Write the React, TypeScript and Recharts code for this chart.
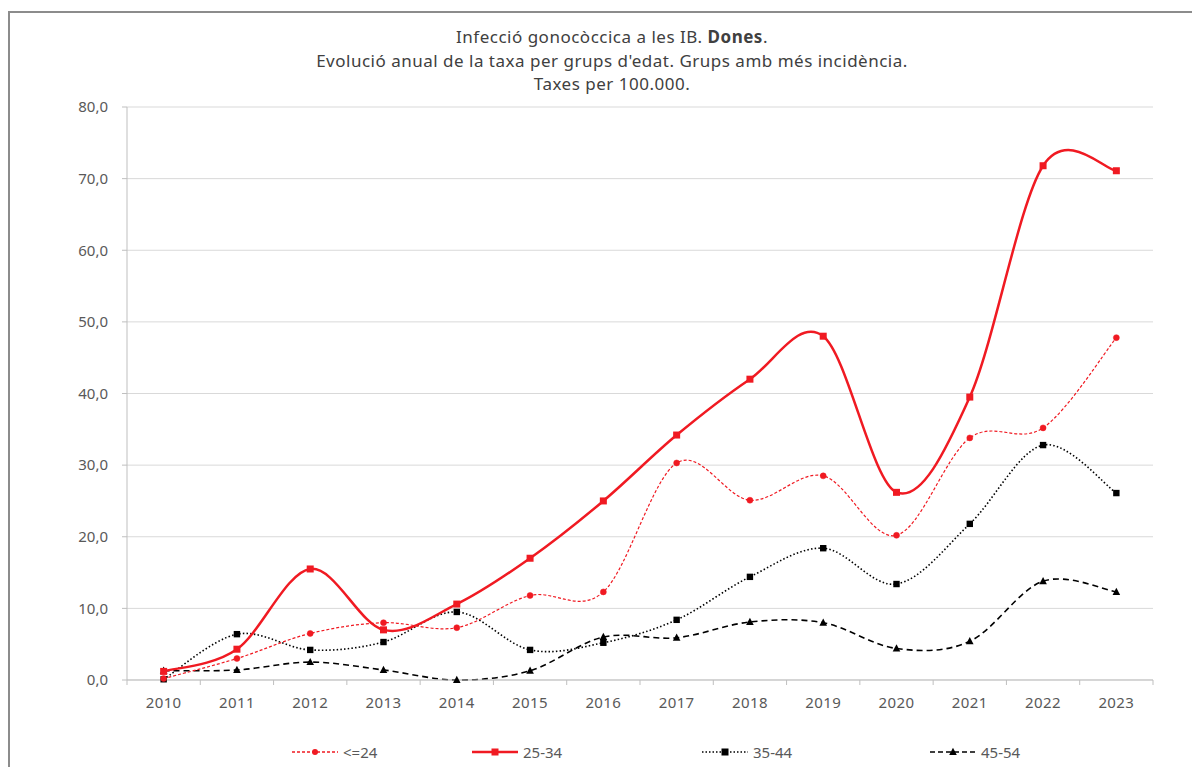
import React from 'react';
import { LineChart, Line, XAxis, YAxis, CartesianGrid, Legend } from 'recharts';

const years = ['2010','2011','2012','2013','2014','2015','2016','2017','2018','2019','2020','2021','2022','2023'];
const le24 = [0.2, 3.0, 6.5, 8.0, 7.3, 11.8, 12.3, 30.3, 25.1, 28.5, 20.2, 33.8, 35.2, 47.8];
const g2534 = [1.2, 4.3, 15.5, 7.0, 10.6, 17.0, 25.0, 34.2, 42.0, 48.0, 26.2, 39.5, 71.8, 71.1];
const g3544 = [0.1, 6.4, 4.2, 5.3, 9.5, 4.2, 5.2, 8.4, 14.4, 18.4, 13.4, 21.8, 32.8, 26.1];
const g4554 = [1.3, 1.4, 2.5, 1.4, 0.0, 1.3, 6.0, 5.9, 8.1, 8.0, 4.4, 5.4, 13.8, 12.3];
const yTicks = [0, 10, 20, 30, 40, 50, 60, 70, 80];
const seriesNames = ['<=24', '25-34', '35-44', '45-54'];
const titleLines = ['Infecció gonocòccica a les IB. ', "Evolució anual de la taxa per grups d'edat. Grups amb més incidència.", 'Taxes per 100.000.'];

const data = years.map((y, i) => ({ year: y, a: le24[i], b: g2534[i], c: g3544[i], d: g4554[i] }));

const RED = '#f01a22';
const FONT = '"Noto Sans", "Open Sans", sans-serif';

// Excel-like smoothed line (Catmull-Rom via cubic Bezier)
const excelCurve: any = (ctx: any) => {
  let pts: number[][] = [];
  return {
    areaStart() {},
    areaEnd() {},
    lineStart() { pts = []; },
    point(x: number, y: number) { pts.push([+x, +y]); },
    lineEnd() {
      const n = pts.length;
      if (!n) return;
      ctx.moveTo(pts[0][0], pts[0][1]);
      for (let i = 0; i < n - 1; i++) {
        const p0 = pts[Math.max(i - 1, 0)], p1 = pts[i], p2 = pts[i + 1], p3 = pts[Math.min(i + 2, n - 1)];
        ctx.bezierCurveTo(
          p1[0] + (p2[0] - p0[0]) / 6, p1[1] + (p2[1] - p0[1]) / 6,
          p2[0] - (p3[0] - p1[0]) / 6, p2[1] - (p3[1] - p1[1]) / 6,
          p2[0], p2[1]
        );
      }
    },
  };
};

const CircleDot = (p: any) => <circle key={p.key ?? p.index} cx={p.cx} cy={p.cy} r={3} fill={RED} stroke={RED} strokeWidth={0.5} />;
const RedSquare = (p: any) => <rect key={p.key ?? p.index} x={p.cx - 3.5} y={p.cy - 3.5} width={7} height={7} fill={RED} />;
const BlackSquare = (p: any) => <rect key={p.key ?? p.index} x={p.cx - 3.2} y={p.cy - 3.2} width={6.4} height={6.4} fill="#000" />;
const Triangle = (p: any) => <path key={p.key ?? p.index} d={`M${p.cx},${p.cy - 4.2}L${p.cx + 3.8},${p.cy + 3}L${p.cx - 3.8},${p.cy + 3}Z`} fill="#000" />;

const XTick = (props: any) => {
  const { x, y, payload, index, visibleTicksCount } = props;
  const off = payload?.offset ?? 0;
  const last = index === (visibleTicksCount ?? years.length) - 1;
  return (
    <g>
      <line x1={x - off} x2={x - off} y1={y} y2={y + 5} stroke="#bfbfbf" strokeWidth={1} />
      {last && <line x1={x + off} x2={x + off} y1={y} y2={y + 5} stroke="#bfbfbf" strokeWidth={1} />}
      <text x={x} y={y + 17} dy="0.71em" textAnchor="middle" fill="#595959" fontSize={15} letterSpacing={0.4} fontFamily={FONT}>{payload.value}</text>
    </g>
  );
};

const legendItems = [
  { name: seriesNames[0], left: 282, stroke: RED, dash: '3 2', width: 1.3, marker: 'circle', color: RED },
  { name: seriesNames[1], left: 462, stroke: RED, dash: undefined, width: 2.5, marker: 'square', color: RED },
  { name: seriesNames[2], left: 692, stroke: '#000', dash: '1.5 2', width: 1.5, marker: 'square', color: '#000' },
  { name: seriesNames[3], left: 920, stroke: '#000', dash: '5 3', width: 1.5, marker: 'triangle', color: '#000' },
];

const LegendContent = () => (
  <div style={{ position: 'relative', width: 1192, height: 30 }}>
    {legendItems.map((it) => (
      <div key={it.name} style={{ position: 'absolute', left: it.left, top: 0, height: 30, display: 'flex', alignItems: 'center' }}>
        <svg width={50} height={12}>
          <line x1={2} x2={48} y1={6} y2={6} stroke={it.stroke} strokeWidth={it.width} strokeDasharray={it.dash} />
          {it.marker === 'circle' && <circle cx={25} cy={6} r={3} fill={it.color} />}
          {it.marker === 'square' && <rect x={21.5} y={2.5} width={7} height={7} fill={it.color} />}
          {it.marker === 'triangle' && <path d="M25,1.8L28.8,9L21.2,9Z" fill={it.color} />}
        </svg>
        <span style={{ fontFamily: FONT, fontSize: 15, color: '#595959', marginLeft: 3 }}>{it.name}</span>
      </div>
    ))}
  </div>
);

export default function App() {
  return (
    <div style={{ position: 'relative', width: 1192, height: 759, overflow: 'hidden' }}>
      <div style={{ position: 'absolute', left: 0, top: 3, width: 1300, height: 900, borderLeft: '2px solid #8c8c8c', borderTop: '2px solid #8c8c8c' }} />
      <div style={{ position: 'absolute', left: 4, top: 17, width: 1200, textAlign: 'center', fontFamily: FONT, fontSize: 17, letterSpacing: 0.5, lineHeight: '23.5px', color: '#404040' }}>
        <div>{titleLines[0]}<b>Dones</b>.</div>
        <div>{titleLines[1]}</div>
        <div>{titleLines[2]}</div>
      </div>
      <div style={{ position: 'absolute', left: 0, top: 0 }}>
        <LineChart width={1192} height={759} data={data} margin={{ top: 99, right: 47, left: 0, bottom: 27 }}>
          <CartesianGrid vertical={false} stroke="#d9d9d9" strokeWidth={1} />
          <XAxis dataKey="year" scale="band" height={30} tickSize={0} tickMargin={0} axisLine={{ stroke: '#bfbfbf' }} tickLine={false} tick={<XTick />} interval={0} />
          <YAxis width={119} domain={[0, 80]} ticks={yTicks} interval={0} tickSize={5} tickMargin={14}
            axisLine={{ stroke: '#bfbfbf' }} tickLine={{ stroke: '#bfbfbf' }}
            tick={{ fill: '#595959', fontSize: 15, fontFamily: FONT }}
            tickFormatter={(v: number) => v.toFixed(1).replace('.', ',')} />
          <Legend verticalAlign="bottom" content={<LegendContent />} wrapperStyle={{ top: 729, bottom: 'auto', left: 0, width: 1192, height: 30 }} />
          <Line name={seriesNames[3]} dataKey="d" type={excelCurve} stroke="#000" strokeWidth={1.6} strokeDasharray="6 4" dot={Triangle} isAnimationActive={false} />
          <Line name={seriesNames[2]} dataKey="c" type={excelCurve} stroke="#000" strokeWidth={1.6} strokeDasharray="1.5 2.2" dot={BlackSquare} isAnimationActive={false} />
          <Line name={seriesNames[0]} dataKey="a" type={excelCurve} stroke={RED} strokeWidth={1.2} strokeDasharray="3 2" dot={CircleDot} isAnimationActive={false} />
          <Line name={seriesNames[1]} dataKey="b" type={excelCurve} stroke={RED} strokeWidth={2.5} dot={RedSquare} isAnimationActive={false} />
        </LineChart>
      </div>
    </div>
  );
}
